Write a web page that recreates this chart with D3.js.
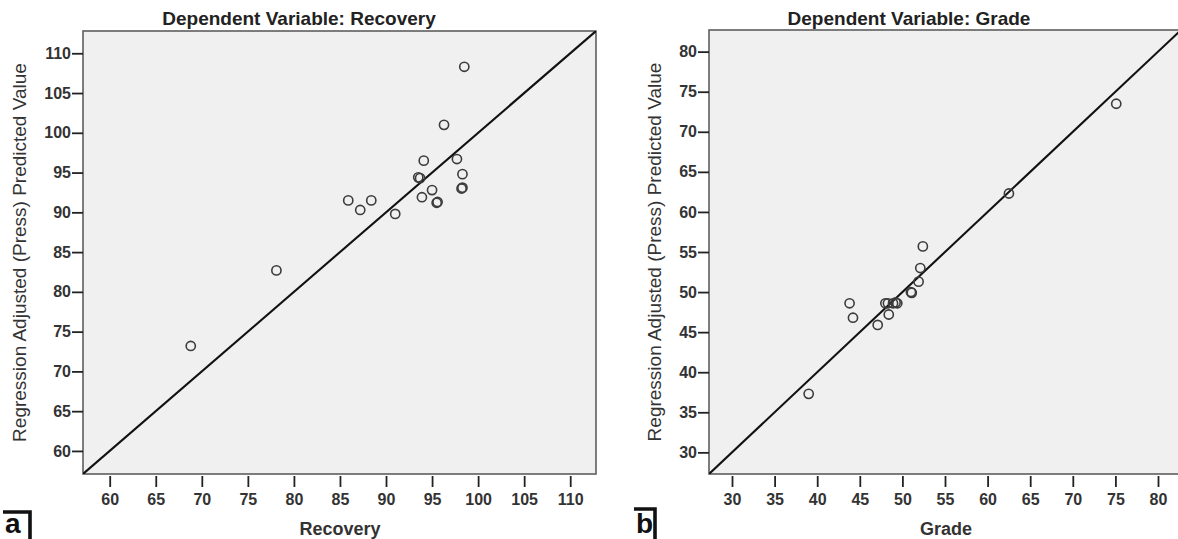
<!DOCTYPE html>
<html><head><meta charset="utf-8">
<script src="https://cdn.jsdelivr.net/npm/d3@7"></script>
<style>html,body{margin:0;padding:0;background:#fff;} svg{display:block;}</style>
</head><body><svg id="c" width="1178" height="539"></svg>
<script>
// Panel a: Dependent Variable: Recovery
const recoveryActual    = [98.5, 96.3, 94.1, 97.7, 93.5, 93.7, 98.3, 98.2, 98.3, 95.0, 93.9, 95.5, 95.6, 85.9, 88.4, 87.2, 91.0, 78.1, 68.8];
const recoveryPredicted = [108.3, 101.0, 96.5, 96.7, 94.4, 94.3, 94.8, 93.0, 93.1, 92.8, 91.9, 91.2, 91.3, 91.5, 91.5, 90.3, 89.8, 82.7, 73.2];
const recoveryTicks = [60, 65, 70, 75, 80, 85, 90, 95, 100, 105, 110];

// Panel b: Dependent Variable: Grade
const gradeActual    = [75.1, 62.5, 52.4, 52.1, 51.9, 51.0, 51.1, 48.0, 48.3, 48.9, 49.2, 49.4, 48.4, 47.1, 44.2, 43.8, 39.0];
const gradePredicted = [73.5, 62.3, 55.7, 53.0, 51.3, 50.0, 49.9, 48.6, 48.6, 48.6, 48.7, 48.6, 47.2, 45.9, 46.8, 48.6, 37.3];
const gradeTicks = [30, 35, 40, 45, 50, 55, 60, 65, 70, 75, 80];

const yTitle = "Regression Adjusted (Press) Predicted Value";

const svg = d3.select('#c');
const FONT = 'Arial, "Liberation Sans", Helvetica, sans-serif';

function panel(cfg) {
  const g = svg.append('g');
  const x = d3.scaleLinear().domain(cfg.domain).range([cfg.left, cfg.right]);
  const y = d3.scaleLinear().domain(cfg.domain).range([cfg.bottom, cfg.top]);

  const clipId = 'clip' + cfg.id;
  svg.append('clipPath').attr('id', clipId).append('rect')
    .attr('x', cfg.left).attr('y', cfg.top)
    .attr('width', cfg.right - cfg.left).attr('height', cfg.bottom - cfg.top);

  g.append('rect')
    .attr('x', cfg.left).attr('y', cfg.top)
    .attr('width', cfg.right - cfg.left).attr('height', cfg.bottom - cfg.top)
    .attr('fill', '#f0f0f0').attr('stroke', '#5e5e5e').attr('stroke-width', 1.6);

  // reference line y = x
  const ref = cfg.domain;
  g.append('line').attr('clip-path', `url(#${clipId})`)
    .attr('x1', x(ref[0])).attr('y1', y(ref[0]))
    .attr('x2', x(ref[1])).attr('y2', y(ref[1]))
    .attr('stroke', '#111').attr('stroke-width', 2.1);

  // points
  g.append('g').selectAll('circle').data(cfg.xs.map((v, i) => [v, cfg.ys[i]]))
    .join('circle')
    .attr('cx', d => x(d[0])).attr('cy', d => y(d[1])).attr('r', 4.6)
    .attr('fill', 'none').attr('stroke', '#3c3c3c').attr('stroke-width', 1.6);

  // x axis
  const xa = g.append('g').attr('transform', `translate(0,${cfg.bottom + 2})`)
    .call(d3.axisBottom(x).tickValues(cfg.ticks).tickSize(11).tickPadding(7));
  xa.select('.domain').remove();
  xa.selectAll('.tick line').attr('stroke', '#222').attr('stroke-width', 1.8);
  xa.selectAll('.tick text').attr('font-family', FONT).attr('font-size', 16)
    .attr('font-weight', 'bold').attr('fill', '#333');

  // y axis
  const ya = g.append('g').attr('transform', `translate(${cfg.left},0)`)
    .call(d3.axisLeft(y).tickValues(cfg.ticks).tickSize(11).tickPadding(1));
  ya.select('.domain').remove();
  ya.selectAll('.tick line').attr('stroke', '#222').attr('stroke-width', 1.8);
  ya.selectAll('.tick text').attr('font-family', FONT).attr('font-size', 16)
    .attr('font-weight', 'bold').attr('fill', '#333');

  // title
  g.append('text').attr('x', cfg.titleX).attr('y', 25)
    .attr('text-anchor', 'middle').attr('font-family', FONT)
    .attr('font-size', 19).attr('font-weight', 'bold').attr('fill', '#222')
    .text(cfg.title);

  // x title
  g.append('text').attr('x', cfg.xTitleX).attr('y', 535)
    .attr('text-anchor', 'middle').attr('font-family', FONT)
    .attr('font-size', 18).attr('font-weight', 'bold').attr('fill', '#333')
    .text(cfg.xTitle);

  // y title
  g.append('text')
    .attr('transform', `translate(${cfg.yTitleX},${(cfg.top + cfg.bottom) / 2}) rotate(-90)`)
    .attr('text-anchor', 'middle').attr('font-family', FONT)
    .attr('font-size', 19).attr('fill', '#333')
    .text(yTitle);

  // panel letter with bracket
  g.append('text').attr('x', cfg.letterX).attr('y', 533)
    .attr('font-family', FONT).attr('font-size', 28).attr('font-weight', 'bold')
    .attr('fill', '#111').text(cfg.letter);
  g.append('path')
    .attr('d', `M${cfg.bracket[0]},${cfg.bracket[2]} H${cfg.bracket[1]} V539`)
    .attr('fill', 'none').attr('stroke', '#111').attr('stroke-width', 3.6);
}

panel({
  id: 'a', left: 83, right: 596, top: 31, bottom: 474, domain: [57.1, 112.8],
  xs: recoveryActual, ys: recoveryPredicted, ticks: recoveryTicks,
  title: 'Dependent Variable: Recovery', titleX: 299, xTitle: 'Recovery', xTitleX: 340,
  yTitleX: 26, letter: 'a', letterX: 5, bracket: [3, 30, 512]
});

panel({
  id: 'b', left: 709, right: 1181, top: 30, bottom: 474, domain: [27.3, 82.7],
  xs: gradeActual, ys: gradePredicted, ticks: gradeTicks,
  title: 'Dependent Variable: Grade', titleX: 909, xTitle: 'Grade', xTitleX: 946,
  yTitleX: 661, letter: 'b', letterX: 636, bracket: [634, 655, 509]
});
</script>
</body></html>
